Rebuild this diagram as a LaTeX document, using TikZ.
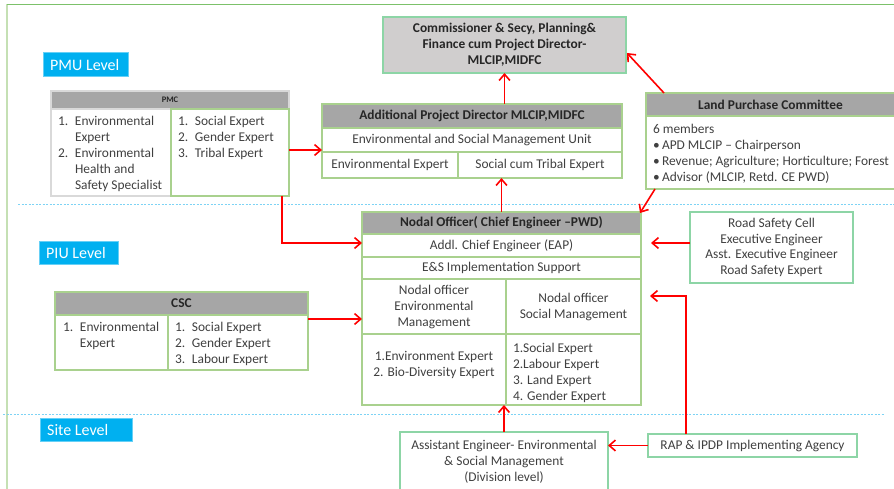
\documentclass[tikz,border=0pt]{standalone}
\usepackage{fontspec}
\setmainfont{Carlito}
\usetikzlibrary{arrows.meta,calc}
\definecolor{gborder}{HTML}{A9D18E}
\definecolor{tborder}{HTML}{8DD5A6}
\definecolor{grayb}{HTML}{D9D9D9}
\definecolor{hdr}{HTML}{A6A6A6}
\definecolor{commfill}{HTML}{D0CECE}
\definecolor{txtc}{HTML}{404040}
\definecolor{lvl}{HTML}{00B0F0}
\definecolor{dashc}{HTML}{7DD3F5}
\definecolor{frametop}{HTML}{7CC16A}
\definecolor{frameleft}{HTML}{C5E0B4}
\newcommand{\li}[2]{\makebox[17pt][l]{#1}#2}
\tikzset{
  box/.style={draw=gborder, line width=1.2pt, inner sep=0pt, outer sep=0pt, anchor=north west},
  tbox/.style={box, draw=tborder},
  hdrbox/.style={box, fill=hdr, font=\fontsize{13.4}{16}\selectfont\bfseries, text=black!85},
  txt/.style={text=txtc, font=\fontsize{13.4}{16}\selectfont, inner sep=0pt, outer sep=0pt},
  lvlbox/.style={fill=lvl, draw=lvl!60, line width=0.6pt, inner sep=0pt, anchor=north west},
  lvltxt/.style={text=white, font=\fontsize{16}{18}\selectfont, inner sep=0pt, anchor=west},
  arr/.style={draw=red, line width=1.6pt, -{Straight Barb[length=2.2mm,width=3.8mm]}},
  dline/.style={draw=dashc, line width=0.8pt, dash pattern=on 2pt off 1.5pt},
}
\begin{document}
\begin{tikzpicture}[x=1pt,y=-1pt]
\useasboundingbox (0,0) rectangle (894,489);
\fill[white] (0,0) rectangle (894,489);
% frame
\draw[frameleft, line width=1.5pt] (7,489) -- (7,4.5);
\draw[frametop, line width=1.5pt] (7,4.5) -- (894,4.5);
% dashed level separators
\draw[dline] (18,204.5) -- (894,204.5);
\draw[dline] (3,414.5) -- (884,414.5);
% level labels
\node[lvlbox, minimum width=85pt, minimum height=24pt] (pmu) at (43,52) {};
\node[lvltxt] (pmut) at ($(pmu.west)+(7,0.5)$) {PMU Level};
\node[lvlbox, minimum width=79pt, minimum height=23pt] (piu) at (39,241) {};
\node[lvltxt] (piut) at ($(piu.west)+(7,0.5)$) {PIU Level};
\node[lvlbox, minimum width=92pt, minimum height=23pt] (site) at (40,418) {};
\node[lvltxt] (sitet) at ($(site.west)+(7,0.5)$) {Site Level};
% Commissioner
\node[tbox, fill=commfill, minimum width=243pt, minimum height=56pt, align=center,
      font=\fontsize{13.4}{16}\selectfont\bfseries, text=black!85] (comm) at (383,17)
  {Commissioner \& Secy, Planning\&\\Finance cum Project Director-\\MLCIP,MIDFC};
% APD
\node[box, minimum width=300pt, minimum height=74pt] (apd) at (322,104) {};
\node[hdrbox, minimum width=300pt, minimum height=24pt] (apdh) at (322,104) {Additional Project Director MLCIP,MIDFC};
\node[box, txt, minimum width=300pt, minimum height=24pt] (esmu) at (322,128) {Environmental and Social Management Unit};
\node[box, txt, minimum width=136pt, minimum height=26pt] (apdenv) at (322,152) {Environmental Expert};
\node[box, txt, minimum width=164pt, minimum height=26pt] (apdsoc) at (458,152) {Social cum Tribal Expert};
% PMC
\node[box, draw=grayb, minimum width=238pt, minimum height=105pt] (pmc) at (51,91) {};
\node[hdrbox, draw=grayb, minimum width=238pt, minimum height=18pt, font=\fontsize{8.5}{9}\selectfont\bfseries] (pmch) at (51,91) {PMC};
\node[box, minimum width=118pt, minimum height=87pt] (pmcr) at (171,109) {};
\node[txt, align=left, anchor=north west] (pmclt) at (58,116.5)
  {\li{1.}{Environmental}\\\li{}{Expert}\\\li{2.}{Environmental}\\\li{}{Health and}\\\li{}{Safety Specialist}};
\node[txt, align=left, anchor=north west] (pmcrt) at (178,116.5)
  {\li{1.}{Social Expert}\\\li{2.}{Gender Expert}\\\li{3.}{Tribal Expert}};
% Land Purchase Committee
\node[box, minimum width=249pt, minimum height=96pt] (lpc) at (646,93) {};
\node[hdrbox, minimum width=249pt, minimum height=23pt] (lpch) at (646,93) {Land Purchase Committee};
\node[txt, align=left, anchor=north west] (lpct) at (653,124)
  {6 members\\[0.5pt] \makebox[9pt][l]{•}APD MLCIP – Chairperson\\ \makebox[9pt][l]{•}Revenue; Agriculture; Horticulture; Forest\\ \makebox[9pt][l]{•}Advisor (MLCIP, Retd. CE PWD)};
% Nodal officer
\node[box, minimum width=279pt, minimum height=193pt] (nodal) at (362,212) {};
\node[hdrbox, minimum width=279pt, minimum height=22pt] (nodalh) at (362,212) {Nodal Officer( Chief Engineer –PWD)};
\node[box, txt, minimum width=279pt, minimum height=23pt] (addl) at (362,234) {Addl. Chief Engineer (EAP)};
\node[box, txt, minimum width=279pt, minimum height=22pt] (esimpl) at (362,257) {E\&S Implementation Support};
\node[box, minimum width=144pt, minimum height=55pt] (noenv) at (362,279) {};
\node[box, minimum width=135pt, minimum height=55pt] (nosoc) at (506,279) {};
\node[box, minimum width=144pt, minimum height=71pt] (envexp) at (362,334) {};
\node[box, minimum width=135pt, minimum height=71pt] (socexp) at (506,334) {};
\node[txt, align=center] (noenvt) at (noenv.center) {Nodal officer\\Environmental\\Management};
\node[txt, align=center] (nosoct) at (nosoc.center) {Nodal officer\\Social Management};
\node[txt, align=center, anchor=north] (envexpt) at (434,351) {1.Environment Expert\\2. Bio-Diversity Expert};
\node[txt, align=left, anchor=north west] (socexpt) at (513,343) {1.Social Expert\\2.Labour Expert\\3. Land Expert\\4. Gender Expert};
% CSC
\node[box, minimum width=253pt, minimum height=78pt] (csc) at (55,292) {};
\node[hdrbox, minimum width=253pt, minimum height=23pt] (csch) at (55,292) {CSC};
\node[box, minimum width=113pt, minimum height=55pt] (cscl) at (55,315) {};
\node[box, minimum width=140pt, minimum height=55pt] (cscr) at (168,315) {};
\node[txt, align=left, anchor=north west] (cscltt) at (63,322.5) {\li{1.}{Environmental}\\\li{}{Expert}};
\node[txt, align=left, anchor=north west] (cscrtt) at (175,322.5) {\li{1.}{Social Expert}\\\li{2.}{Gender Expert}\\\li{3.}{Labour Expert}};
% Road Safety Cell
\node[tbox, txt, minimum width=163pt, minimum height=71pt, align=center] (rsc) at (690,212)
  {Road Safety Cell\\[-0.5pt]Executive Engineer\\[-0.5pt]Asst. Executive Engineer\\[-0.5pt]Road Safety Expert};
% RAP
\node[tbox, txt, minimum width=209pt, minimum height=23pt] (rap) at (648,434) {RAP \& IPDP Implementing Agency};
% Assistant engineer
\node[tbox, minimum width=208pt, minimum height=60pt] (asst) at (400,432) {};
\node[txt, align=center, anchor=north] (asstt) at (504,440) {Assistant Engineer- Environmental\\\& Social Management\\(Division level)};
% arrows
\draw[arr] (apd.north -| comm.south) -- (comm.south);
\draw[arr] (nodal.north) -- (nodal.north |- apd.south);
\draw[arr] (asst.north) -- (asst.north |- nodal.south);
\draw[arr] ($(pmc.east)+(0,6.5)$) -- (apd.west |- {$(pmc.east)+(0,6.5)$});
\draw[arr] ($(pmc.south east)+(-7,0)$) |- ($(nodal.west |- addl.center)+(0,-2.5)$);
\draw[arr] ($(csc.north east)+(0,27)$) -- (nodal.west |- {$(csc.north east)+(0,27)$});
\draw[arr, shorten >=10pt] ($(rsc.west)+(0,-4.5)$) -- (nodal.east |- {$(rsc.west)+(0,-4.5)$});
\draw[arr] (rap.west) -- (asst.east |- rap.west);
\draw[arr, shorten >=9pt] ($(rap.north west)+(38,0)$) |- ($(nodal.north east)+(0,84)$);
\draw[arr] ($(lpc.north west)+(18,0)$) -- ($(comm.east)+(1,8)$);
\draw[arr] ($(lpc.south west)+(9,0)$) -- ($(nodal.north east)+(-1,1)$);
\end{tikzpicture}
\end{document}
